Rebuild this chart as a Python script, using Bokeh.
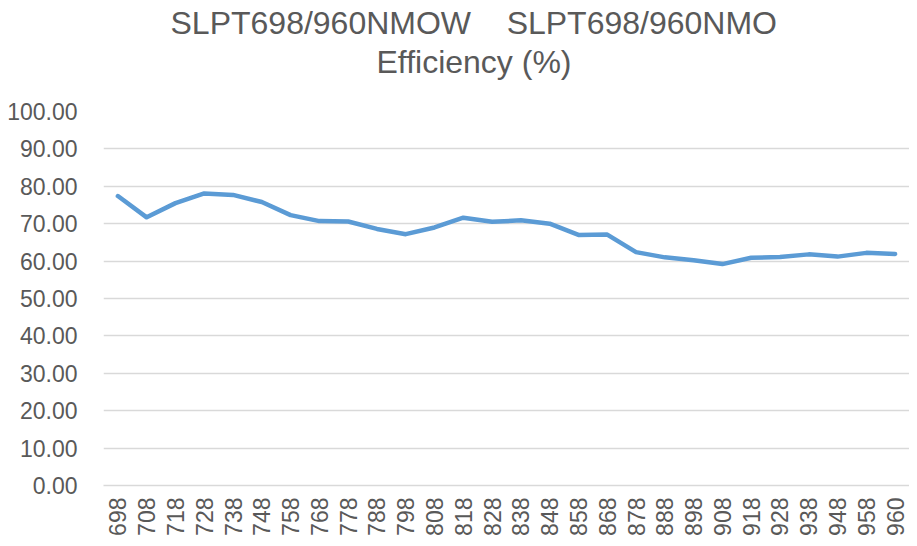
from bokeh.plotting import figure
from bokeh.models import Range1d, FixedTicker, NumeralTickFormatter, Title, ColumnDataSource
from bokeh.embed import file_html
from bokeh.resources import INLINE
import math

wavelengths = ["698", "708", "718", "728", "738", "748", "758", "768", "778", "788",
               "798", "808", "818", "828", "838", "848", "858", "868", "878", "888",
               "898", "908", "918", "928", "938", "948", "958", "960"]
efficiency = [77.4, 71.7, 75.5, 78.1, 77.7, 75.8, 72.3, 70.7, 70.6, 68.6,
              67.2, 69.0, 71.6, 70.5, 70.9, 70.0, 67.0, 67.1, 62.4, 61.0,
              60.2, 59.2, 60.9, 61.1, 61.8, 61.2, 62.2, 61.9]
y_ticks = [0, 10, 20, 30, 40, 50, 60, 70, 80, 90, 100]
title_line1 = "SLPT698/960NMOW\u00a0\u00a0\u00a0\u00a0SLPT698/960NMO"
title_line2 = "Efficiency (%)"

FONT = "Liberation Sans"
GREY = "#595959"

p = figure(width=909, height=538, x_range=wavelengths, y_range=Range1d(0, 100),
           output_backend="svg", toolbar_location=None,
           min_border_left=103, min_border_right=0, min_border_bottom=30, min_border_top=10)
p.x_range.range_padding = 0
p.outline_line_color = None

src = ColumnDataSource(dict(x=wavelengths, y=efficiency))
p.line("x", "y", source=src, line_color="#5B9BD5", line_width=4.5,
       line_join="round", line_cap="round")

p.yaxis.ticker = FixedTicker(ticks=y_ticks)
p.yaxis.formatter = NumeralTickFormatter(format="0.00")
p.yaxis.axis_line_color = None
p.yaxis.major_tick_line_color = None
p.yaxis.minor_tick_line_color = None
p.yaxis.major_label_standoff = 20
p.yaxis.major_label_text_font = FONT
p.yaxis.major_label_text_font_size = "23px"
p.yaxis.major_label_text_color = GREY

p.xaxis.axis_line_color = "#D9D9D9"
p.xaxis.axis_line_width = 1.5
p.xaxis.major_tick_line_color = None
p.xaxis.minor_tick_line_color = None
p.xaxis.major_label_orientation = math.pi / 2
p.xaxis.major_label_standoff = 6
p.xaxis.major_label_text_font = FONT
p.xaxis.major_label_text_font_size = "23px"
p.xaxis.major_label_text_color = GREY

p.xgrid.grid_line_color = None
p.ygrid.grid_line_color = "#D9D9D9"
p.ygrid.grid_line_width = 1.5

# spacer between the title block and the plot frame
p.add_layout(Title(text="\u00a0", text_font_size="2px", standoff=29), "above")
p.add_layout(Title(text=title_line2, align="left", offset=273,
                   text_font=FONT, text_font_size="32px", text_font_style="normal",
                   text_color=GREY, standoff=-3), "above")
p.add_layout(Title(text=title_line1, align="left", offset=67,
                   text_font=FONT, text_font_size="32px", text_font_style="normal",
                   text_color=GREY, standoff=5), "above")

open("out.html", "w").write(file_html(p, INLINE))
